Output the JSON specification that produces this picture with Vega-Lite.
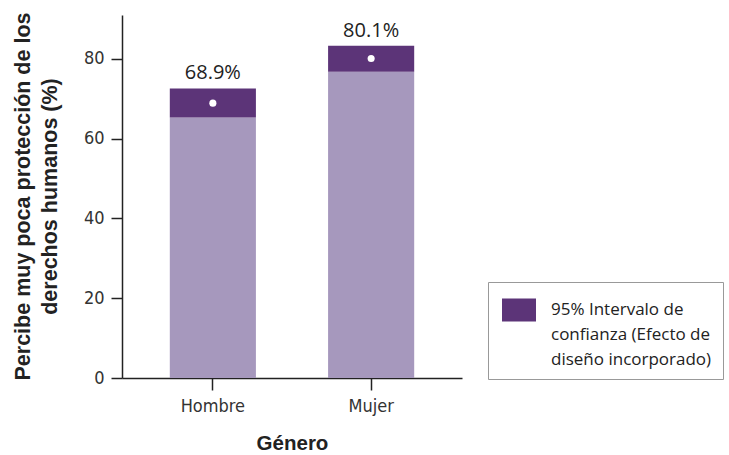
{
  "$schema": "https://vega.github.io/schema/vega-lite/v6.json",
  "width": 340,
  "height": 363,
  "autosize": {"type": "none"},
  "padding": {"left": 122, "top": 15, "right": 267, "bottom": 77},
  "background": "white",
  "config": {"view": {"stroke": null}},
  "data": {
    "values": [
      {"genero": "Hombre", "estimacion": 68.9, "inferior": 65.3, "superior": 72.6, "etiqueta": "68.9%", "serie": "95% Intervalo de confianza (Efecto de diseño incorporado)"},
      {"genero": "Mujer", "estimacion": 80.1, "inferior": 76.8, "superior": 83.3, "etiqueta": "80.1%", "serie": "95% Intervalo de confianza (Efecto de diseño incorporado)"}
    ]
  },
  "encoding": {
    "x": {
      "field": "genero",
      "type": "nominal",
      "scale": {"paddingInner": 0.456, "paddingOuter": 0.302},
      "axis": {
        "title": "Género",
        "titleFont": "Liberation Sans",
        "titleFontWeight": "bold",
        "titleFontSize": 20.5,
        "titleColor": "#222",
        "titlePadding": 18,
        "labelAngle": 0,
        "labelFont": "DejaVu Sans Condensed, Roboto, sans-serif",
        "labelFontSize": 18,
        "labelColor": "#333",
        "labelPadding": 7,
        "domainColor": "#222",
        "domainWidth": 1.5,
        "tickColor": "#222",
        "tickSize": 12,
        "tickWidth": 1.5,
        "grid": false
      }
    }
  },
  "layer": [
    {
      "mark": {"type": "bar", "color": "#a698bd"},
      "encoding": {
        "y": {
          "field": "inferior",
          "type": "quantitative",
          "scale": {"domain": [0, 91], "nice": false},
          "axis": {
            "title": ["Percibe muy poca protección de los", "derechos humanos (%)"],
            "titleFont": "Liberation Sans",
            "titleFontWeight": "bold",
            "titleFontSize": 21.5,
            "titleLineHeight": 27,
            "titleColor": "#222",
            "titleX": -88,
            "titleY": 181,
            "titleAlign": "center",
            "titleBaseline": "bottom",
            "titleAngle": -90,
            "values": [0, 20, 40, 60, 80],
            "labelFont": "DejaVu Sans Condensed, Roboto, sans-serif",
            "labelFontSize": 18,
            "labelColor": "#333",
            "labelPadding": 7,
            "domainColor": "#222",
            "domainWidth": 1.5,
            "tickColor": "#222",
            "tickSize": 11,
            "tickWidth": 1.5,
            "grid": false
          }
        }
      }
    },
    {
      "mark": {"type": "bar"},
      "encoding": {
        "y": {"field": "inferior", "type": "quantitative"},
        "y2": {"field": "superior"},
        "color": {
          "field": "serie",
          "type": "nominal",
          "scale": {"range": ["#5c3478"]},
          "legend": {
            "orient": "none",
            "legendX": 366,
            "legendY": 267,
            "title": null,
            "strokeColor": "#999",
            "padding": 11,
            "labelFont": "Open Sans",
            "labelFontSize": 17,
            "labelColor": "#222",
            "labelLimit": 400,
            "labelOffset": 15,
            "symbolOffset": 3,
            "labelExpr": "['95% Intervalo de', 'confianza (Efecto de', 'diseño incorporado)']",
            "symbolType": "M-1,-0.68H1V0.68H-1Z",
            "symbolSize": 1156,
            "symbolStrokeWidth": 0,
            "symbolOpacity": 1,
            "encode": {"labels": {"update": {"lineHeight": {"value": 25}}}}
          }
        }
      }
    },
    {
      "mark": {"type": "point", "filled": true, "color": "white", "size": 50, "opacity": 1},
      "encoding": {"y": {"field": "estimacion", "type": "quantitative"}}
    },
    {
      "mark": {"type": "text", "baseline": "alphabetic", "dy": -9, "font": "Open Sans", "fontSize": 20, "color": "#222"},
      "encoding": {
        "y": {"field": "superior", "type": "quantitative"},
        "text": {"field": "etiqueta"}
      }
    }
  ]
}
